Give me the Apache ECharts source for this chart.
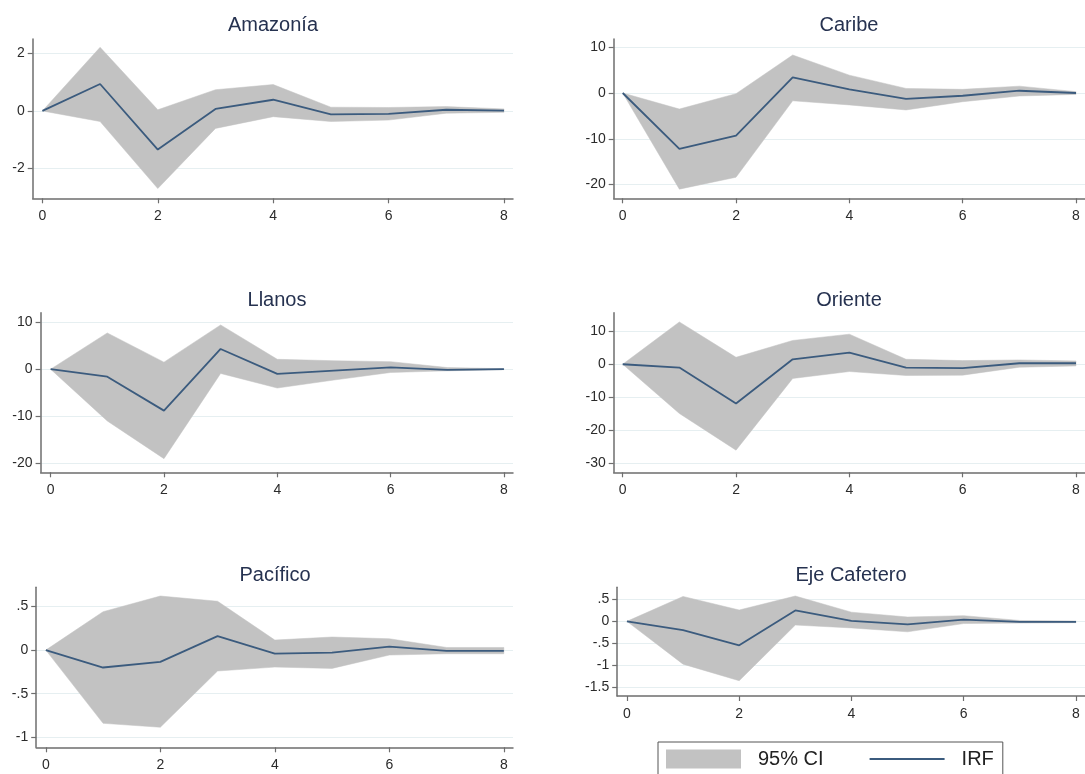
<!DOCTYPE html>
<html>
<head>
<meta charset="utf-8">
<script src="https://cdn.jsdelivr.net/npm/echarts@6/dist/echarts.min.js"></script>
<style>
html,body{margin:0;padding:0;background:#fff;}
#main{width:1085px;height:774px;}
</style>
</head>
<body>
<div id="main"></div>
<script>
// ---- data ----
const periods = [0, 1, 2, 3, 4, 5, 6, 7, 8];
const xTicks = [0, 2, 4, 6, 8];
const titles = ['Amazonía', 'Caribe', 'Llanos', 'Oriente', 'Pacífico', 'Eje Cafetero'];
const legendLabels = ['95% CI', 'IRF'];

const amazoniaIRF   = [0, 0.94, -1.35, 0.07, 0.39, -0.12, -0.10, 0.04, 0.01];
const amazoniaUpper = [0, 2.22, 0.04, 0.74, 0.92, 0.13, 0.12, 0.15, 0.07];
const amazoniaLower = [0, -0.37, -2.71, -0.61, -0.20, -0.37, -0.32, -0.08, -0.05];
const amazoniaTicks = [-2, 0, 2];

const caribeIRF   = [0, -12.2, -9.3, 3.4, 0.8, -1.3, -0.6, 0.5, 0.0];
const caribeUpper = [0, -3.5, -0.15, 8.3, 3.9, 1.0, 0.8, 1.5, 0.3];
const caribeLower = [0, -21.0, -18.4, -1.7, -2.6, -3.7, -1.9, -0.65, -0.3];
const caribeTicks = [-20, -10, 0, 10];

const llanosIRF   = [0, -1.6, -8.8, 4.3, -1.0, -0.3, 0.4, -0.15, 0.0];
const llanosUpper = [0, 7.7, 1.5, 9.4, 2.1, 1.8, 1.6, 0.35, 0.1];
const llanosLower = [0, -11.0, -19.0, -0.9, -4.0, -2.3, -0.7, -0.35, -0.1];
const llanosTicks = [-20, -10, 0, 10];

const orienteIRF   = [0, -1.0, -11.9, 1.5, 3.5, -1.0, -1.2, 0.3, 0.3];
const orienteUpper = [0, 12.8, 2.1, 7.2, 9.1, 1.5, 1.1, 1.3, 1.0];
const orienteLower = [0, -14.9, -26.0, -4.3, -2.2, -3.4, -3.3, -0.9, -0.5];
const orienteTicks = [-30, -20, -10, 0, 10];

const pacificoIRF   = [0, -0.20, -0.135, 0.16, -0.04, -0.03, 0.04, -0.01, -0.01];
const pacificoUpper = [0, 0.44, 0.62, 0.56, 0.115, 0.15, 0.13, 0.03, 0.03];
const pacificoLower = [0, -0.84, -0.885, -0.24, -0.195, -0.21, -0.057, -0.042, -0.042];
const pacificoTicks = [-1, -0.5, 0, 0.5];

const ejeIRF   = [0, -0.20, -0.55, 0.25, 0.01, -0.07, 0.04, -0.01, -0.01];
const ejeUpper = [0, 0.57, 0.26, 0.58, 0.21, 0.10, 0.13, 0.02, 0.01];
const ejeLower = [0, -0.98, -1.36, -0.085, -0.15, -0.24, -0.05, -0.04, -0.03];
const ejeTicks = [-1.5, -1, -0.5, 0, 0.5];

// ---- layout (positions / ranges) ----
const panels = [
  {irf: amazoniaIRF, up: amazoniaUpper, lo: amazoniaLower, ticks: amazoniaTicks,
   left: 32.7, right: 572, top: 39, bottom: 575.7, xMin: -0.168, xMax: 8.156, yMin: -3.05, yMax: 2.51, tx: 273, ty: 15},
  {irf: caribeIRF, up: caribeUpper, lo: caribeLower, ticks: caribeTicks,
   left: 613.7, right: 0, top: 39, bottom: 575.7, xMin: -0.159, xMax: 8.159, yMin: -23.0, yMax: 11.8, tx: 849, ty: 15},
  {irf: llanosIRF, up: llanosUpper, lo: llanosLower, ticks: llanosTicks,
   left: 40.6, right: 572, top: 312.7, bottom: 301.7, xMin: -0.177, xMax: 8.16, yMin: -21.9, yMax: 12.0, tx: 277, ty: 290},
  {irf: orienteIRF, up: orienteUpper, lo: orienteLower, ticks: orienteTicks,
   left: 613.7, right: 0, top: 312.7, bottom: 301.7, xMin: -0.159, xMax: 8.159, yMin: -32.7, yMax: 15.6, tx: 849, ty: 290},
  {irf: pacificoIRF, up: pacificoUpper, lo: pacificoLower, ticks: pacificoTicks,
   left: 36.2, right: 572, top: 587.3, bottom: 26.7, xMin: -0.168, xMax: 8.16, yMin: -1.115, yMax: 0.72, tx: 275, ty: 565},
  {irf: ejeIRF, up: ejeUpper, lo: ejeLower, ticks: ejeTicks,
   left: 617.2, right: 0, top: 587.3, bottom: 78, xMin: -0.173, xMax: 8.16, yMin: -1.71, yMax: 0.78, tx: 851, ty: 565}
];

const AXIS_COLOR = '#6e6e6e';
const LABEL_COLOR = '#2b2b2b';
const BAND_COLOR = '#c2c2c2';
const LINE_COLOR = '#3b5b7e';
const GRID_COLOR = '#e6eff1';
const FONT = 'Liberation Sans, Arial, sans-serif';

function fmt(v) {
  return String(v).replace(/^(-?)0\./, '$1.');
}

const option = {
  animation: false,
  backgroundColor: '#ffffff',
  title: [], grid: [], xAxis: [], yAxis: [], series: [],
  legend: {
    data: [
      {name: legendLabels[0], icon: 'rect'},
      {name: legendLabels[1], itemStyle: {opacity: 0}}
    ],
    left: 658, top: 742,
    orient: 'horizontal',
    padding: [7, 9, 7, 8],
    itemWidth: 75, itemHeight: 19, itemGap: 45,
    borderColor: '#555', borderWidth: 1, borderRadius: 0,
    selectedMode: false,
    textStyle: {fontSize: 20, color: '#222', fontFamily: FONT, padding: [0, 0, 0, 12]}
  }
};

panels.forEach(function (p, i) {
  option.title.push({
    text: titles[i], left: p.tx, top: p.ty, textAlign: 'center', padding: 0,
    textStyle: {fontSize: 20, fontWeight: 'normal', color: '#263250', fontFamily: FONT}
  });
  option.grid.push({left: p.left, right: p.right, top: p.top, bottom: p.bottom, containLabel: false});
  option.xAxis.push({
    type: 'value', gridIndex: i, min: p.xMin, max: p.xMax,
    axisLine: {show: true, onZero: false, lineStyle: {color: AXIS_COLOR, width: 1.5}},
    axisTick: {show: true, length: 5, customValues: xTicks, lineStyle: {color: AXIS_COLOR, width: 1.2}},
    axisLabel: {customValues: xTicks, margin: 11, fontSize: 14, color: LABEL_COLOR, fontFamily: FONT},
    splitLine: {show: false}
  });
  option.yAxis.push({
    type: 'value', gridIndex: i, min: p.yMin, max: p.yMax,
    axisLine: {show: true, onZero: false, lineStyle: {color: AXIS_COLOR, width: 1.5}},
    axisTick: {show: true, length: 5, customValues: p.ticks, lineStyle: {color: AXIS_COLOR, width: 1.2}},
    axisLabel: {customValues: p.ticks, margin: 8, fontSize: 14, color: LABEL_COLOR, fontFamily: FONT, formatter: fmt},
    splitLine: {show: true, lineStyle: {color: GRID_COLOR, width: 1.2}}
  });
  const bandData = periods.map(function (t, k) { return [t, p.lo[k], p.up[k]]; });
  option.series.push({
    type: 'custom', name: legendLabels[0], xAxisIndex: i, yAxisIndex: i,
    data: bandData, encode: {x: 0, y: [1, 2]}, silent: true, z: 1,
    itemStyle: {color: BAND_COLOR},
    renderItem: function (params, api) {
      if (params.dataIndex !== 0) return null;
      const pts = [];
      for (let k = 0; k < bandData.length; k++) pts.push(api.coord([bandData[k][0], bandData[k][2]]));
      for (let k = bandData.length - 1; k >= 0; k--) pts.push(api.coord([bandData[k][0], bandData[k][1]]));
      return {type: 'polygon', shape: {points: pts}, style: {fill: BAND_COLOR, stroke: BAND_COLOR, lineWidth: 0.5}};
    }
  });
  option.series.push({
    type: 'line', name: legendLabels[1], xAxisIndex: i, yAxisIndex: i,
    data: periods.map(function (t, k) { return [t, p.irf[k]]; }),
    symbol: 'none', silent: true, z: 3,
    lineStyle: {color: LINE_COLOR, width: 1.8},
    itemStyle: {color: LINE_COLOR}
  });
});

const chart = echarts.init(document.getElementById('main'), null, {renderer: 'canvas'});
chart.setOption(option);
</script>
</body>
</html>
